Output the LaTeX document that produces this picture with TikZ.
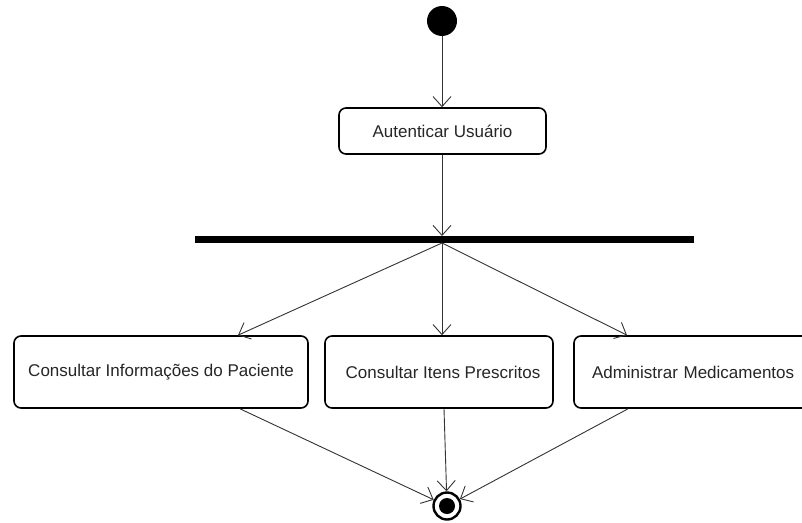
\documentclass[tikz,border=0pt]{standalone}
\usepackage{fontspec}
\setmainfont{Liberation Sans}
\usetikzlibrary{arrows.meta}
\begin{document}
\begin{tikzpicture}[x=1pt,y=-1pt,
  action/.style={draw, rounded corners=7pt, line width=1.6pt, fill=white,
    font=\fontsize{17}{20}\selectfont, text=black!85, inner sep=0pt},
  flow/.style={draw=black!80, line width=0.9pt,
    -{Straight Barb[length=10pt,width=18pt,line width=0.9pt]}}
]
\useasboundingbox (0,0) rectangle (802,522);
\begin{scope}
\clip (0,0) rectangle (802,522);

% initial node
\node[circle, fill=black, minimum size=30pt, inner sep=0pt] (start) at (442,21) {};

% first activity
\node[action, minimum width=207pt, minimum height=46pt] (auth) at (442.5,131) {Autenticar Usuário};

% fork bar
\node[fill=black, minimum width=499pt, minimum height=7pt, inner sep=0pt] (fork) at (444.5,239.5) {};

% parallel activities
\node[action, minimum width=294pt, minimum height=72pt] (info) at (161,372) {Consultar Informações do Paciente};
\node[action, minimum width=228pt, minimum height=72pt] (itens) at (439,372) {\hspace*{8pt}Consultar Itens Prescritos};
\node[action, minimum width=238pt, minimum height=72pt, text width=202pt, align=left] (med) at (693,372) {\mbox{Administrar Medicamentos}};

% final node
\node[circle, draw, line width=2.4pt, minimum size=27pt, inner sep=0pt] (final) at (447,506) {};
\node[circle, fill=black, minimum size=16pt, inner sep=0pt] (finalin) at (447,506) {};

% flows
\coordinate (forkin) at (442,236);
\coordinate (forkout) at (442,243);
\draw[flow] (start) -- (auth.north -| start);
\draw[flow] (auth.south -| start) -- (forkin);
\draw[flow] (forkout) -- ([xshift=77pt]info.north);
\draw[flow] (forkout) -- (itens.north -| forkout);
\draw[flow] (forkout) -- ([xshift=-66pt]med.north);
\draw[flow] ([xshift=79pt]info.south) -- (final);
\draw[flow] ([xshift=5pt]itens.south) -- (final);
\draw[flow] ([xshift=-65pt]med.south) -- (final);
\end{scope}
\end{tikzpicture}
\end{document}
